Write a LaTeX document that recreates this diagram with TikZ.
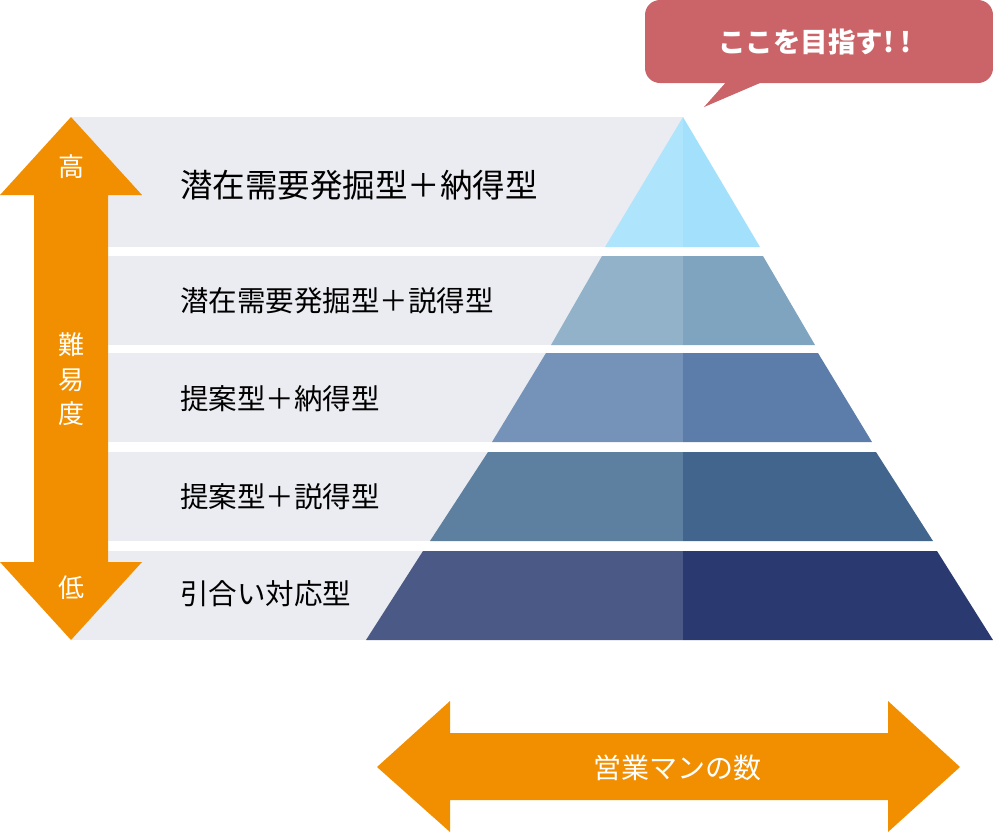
\documentclass[tikz,border=0pt]{standalone}
\usepackage{fontspec}
\newfontfamily\jp{Noto Sans CJK JP}
\definecolor{bandgrey}{HTML}{EBECF1}
\definecolor{arrorange}{HTML}{F28F00}
\definecolor{callred}{HTML}{CB6468}
\definecolor{aL}{HTML}{AFE5FC}
\definecolor{aR}{HTML}{A3E0FB}
\definecolor{bL}{HTML}{92B2CA}
\definecolor{bR}{HTML}{7EA4C0}
\definecolor{cL}{HTML}{7593B9}
\definecolor{cR}{HTML}{5C7CA9}
\definecolor{dL}{HTML}{5D7FA0}
\definecolor{dR}{HTML}{41658D}
\definecolor{eL}{HTML}{4A5985}
\definecolor{eR}{HTML}{2A3A70}
\tikzset{
  rowtext/.style={anchor=west, inner sep=0pt, font=\jp\fontsize{28.5}{34}\selectfont, text=black},
  bigrowtext/.style={anchor=west, inner sep=0pt, font=\jp\fontsize{32.5}{38}\selectfont, text=black},
  arrtext/.style={inner sep=0pt, font=\jp\fontsize{26}{30}\selectfont, text=white},
  calltext/.style={inner sep=0pt, font=\jp\bfseries\fontsize{27.5}{32}\selectfont, text=white},
}
\begin{document}
\begin{tikzpicture}[x=1pt,y=-1pt]
\useasboundingbox (0,0) rectangle (993,833);
% grey bands
\fill[bandgrey] (71,117) rectangle (683,247);
\fill[bandgrey] (71,256) rectangle (683,345);
\fill[bandgrey] (71,353) rectangle (683,442);
\fill[bandgrey] (71,452) rectangle (683,541);
\fill[bandgrey] (71,551) rectangle (683,640);
% pyramid
\fill[aL] (683,117) -- (605,247) -- (683,247) -- cycle;
\fill[aR] (683,117) -- (683,247) -- (760,247) -- cycle;
\fill[bL] (602,256) -- (683,256) -- (683,345) -- (551,345) -- cycle;
\fill[bR] (683,256) -- (763,256) -- (815,345) -- (683,345) -- cycle;
\fill[cL] (546,353) -- (683,353) -- (683,442) -- (492,442) -- cycle;
\fill[cR] (683,353) -- (818,353) -- (872,442) -- (683,442) -- cycle;
\fill[dL] (488,452) -- (683,452) -- (683,541) -- (430,541) -- cycle;
\fill[dR] (683,452) -- (876,452) -- (933,541) -- (683,541) -- cycle;
\fill[eL] (423,551) -- (683,551) -- (683,640) -- (366,640) -- cycle;
\fill[eR] (683,551) -- (937,551) -- (993,640) -- (683,640) -- cycle;
% row labels
\node[bigrowtext] (r1) at (180,185) {潜在需要発掘型＋納得型};
\node[rowtext] (r2) at (180,301) {潜在需要発掘型＋説得型};
\node[rowtext] (r3) at (180,399) {提案型＋納得型};
\node[rowtext] (r4) at (180,497) {提案型＋説得型};
\node[rowtext] (r5) at (180,594) {引合い対応型};
% vertical double arrow
\fill[arrorange] (71,117) -- (142,195) -- (108,195) -- (108,562) -- (142,562)
  -- (71,640) -- (0,562) -- (34,562) -- (34,195) -- (0,195) -- cycle;
\node[arrtext] (hi) at (71,167) {高};
\node[arrtext] (d1) at (71,345) {難};
\node[arrtext] (d2) at (71,380) {易};
\node[arrtext] (d3) at (71,414) {度};
\node[arrtext] (lo) at (71,588) {低};
% horizontal double arrow
\fill[arrorange] (377,767) -- (450,701) -- (450,733) -- (888,733) -- (888,701)
  -- (960,767) -- (888,832) -- (888,800) -- (450,800) -- (450,832) -- cycle;
\node[arrtext, font=\jp\fontsize{28}{32}\selectfont] (num) at (677,768) {営業マンの数};
% callout
\fill[callred, rounded corners=15pt] (645,0) rectangle (993,83);
\fill[callred] (728,80) -- (704,107) -- (767,80) -- cycle;
\node[calltext] (goal) at (815,42) {ここを目指す!\hspace{0.25em}!};
\end{tikzpicture}
\end{document}
